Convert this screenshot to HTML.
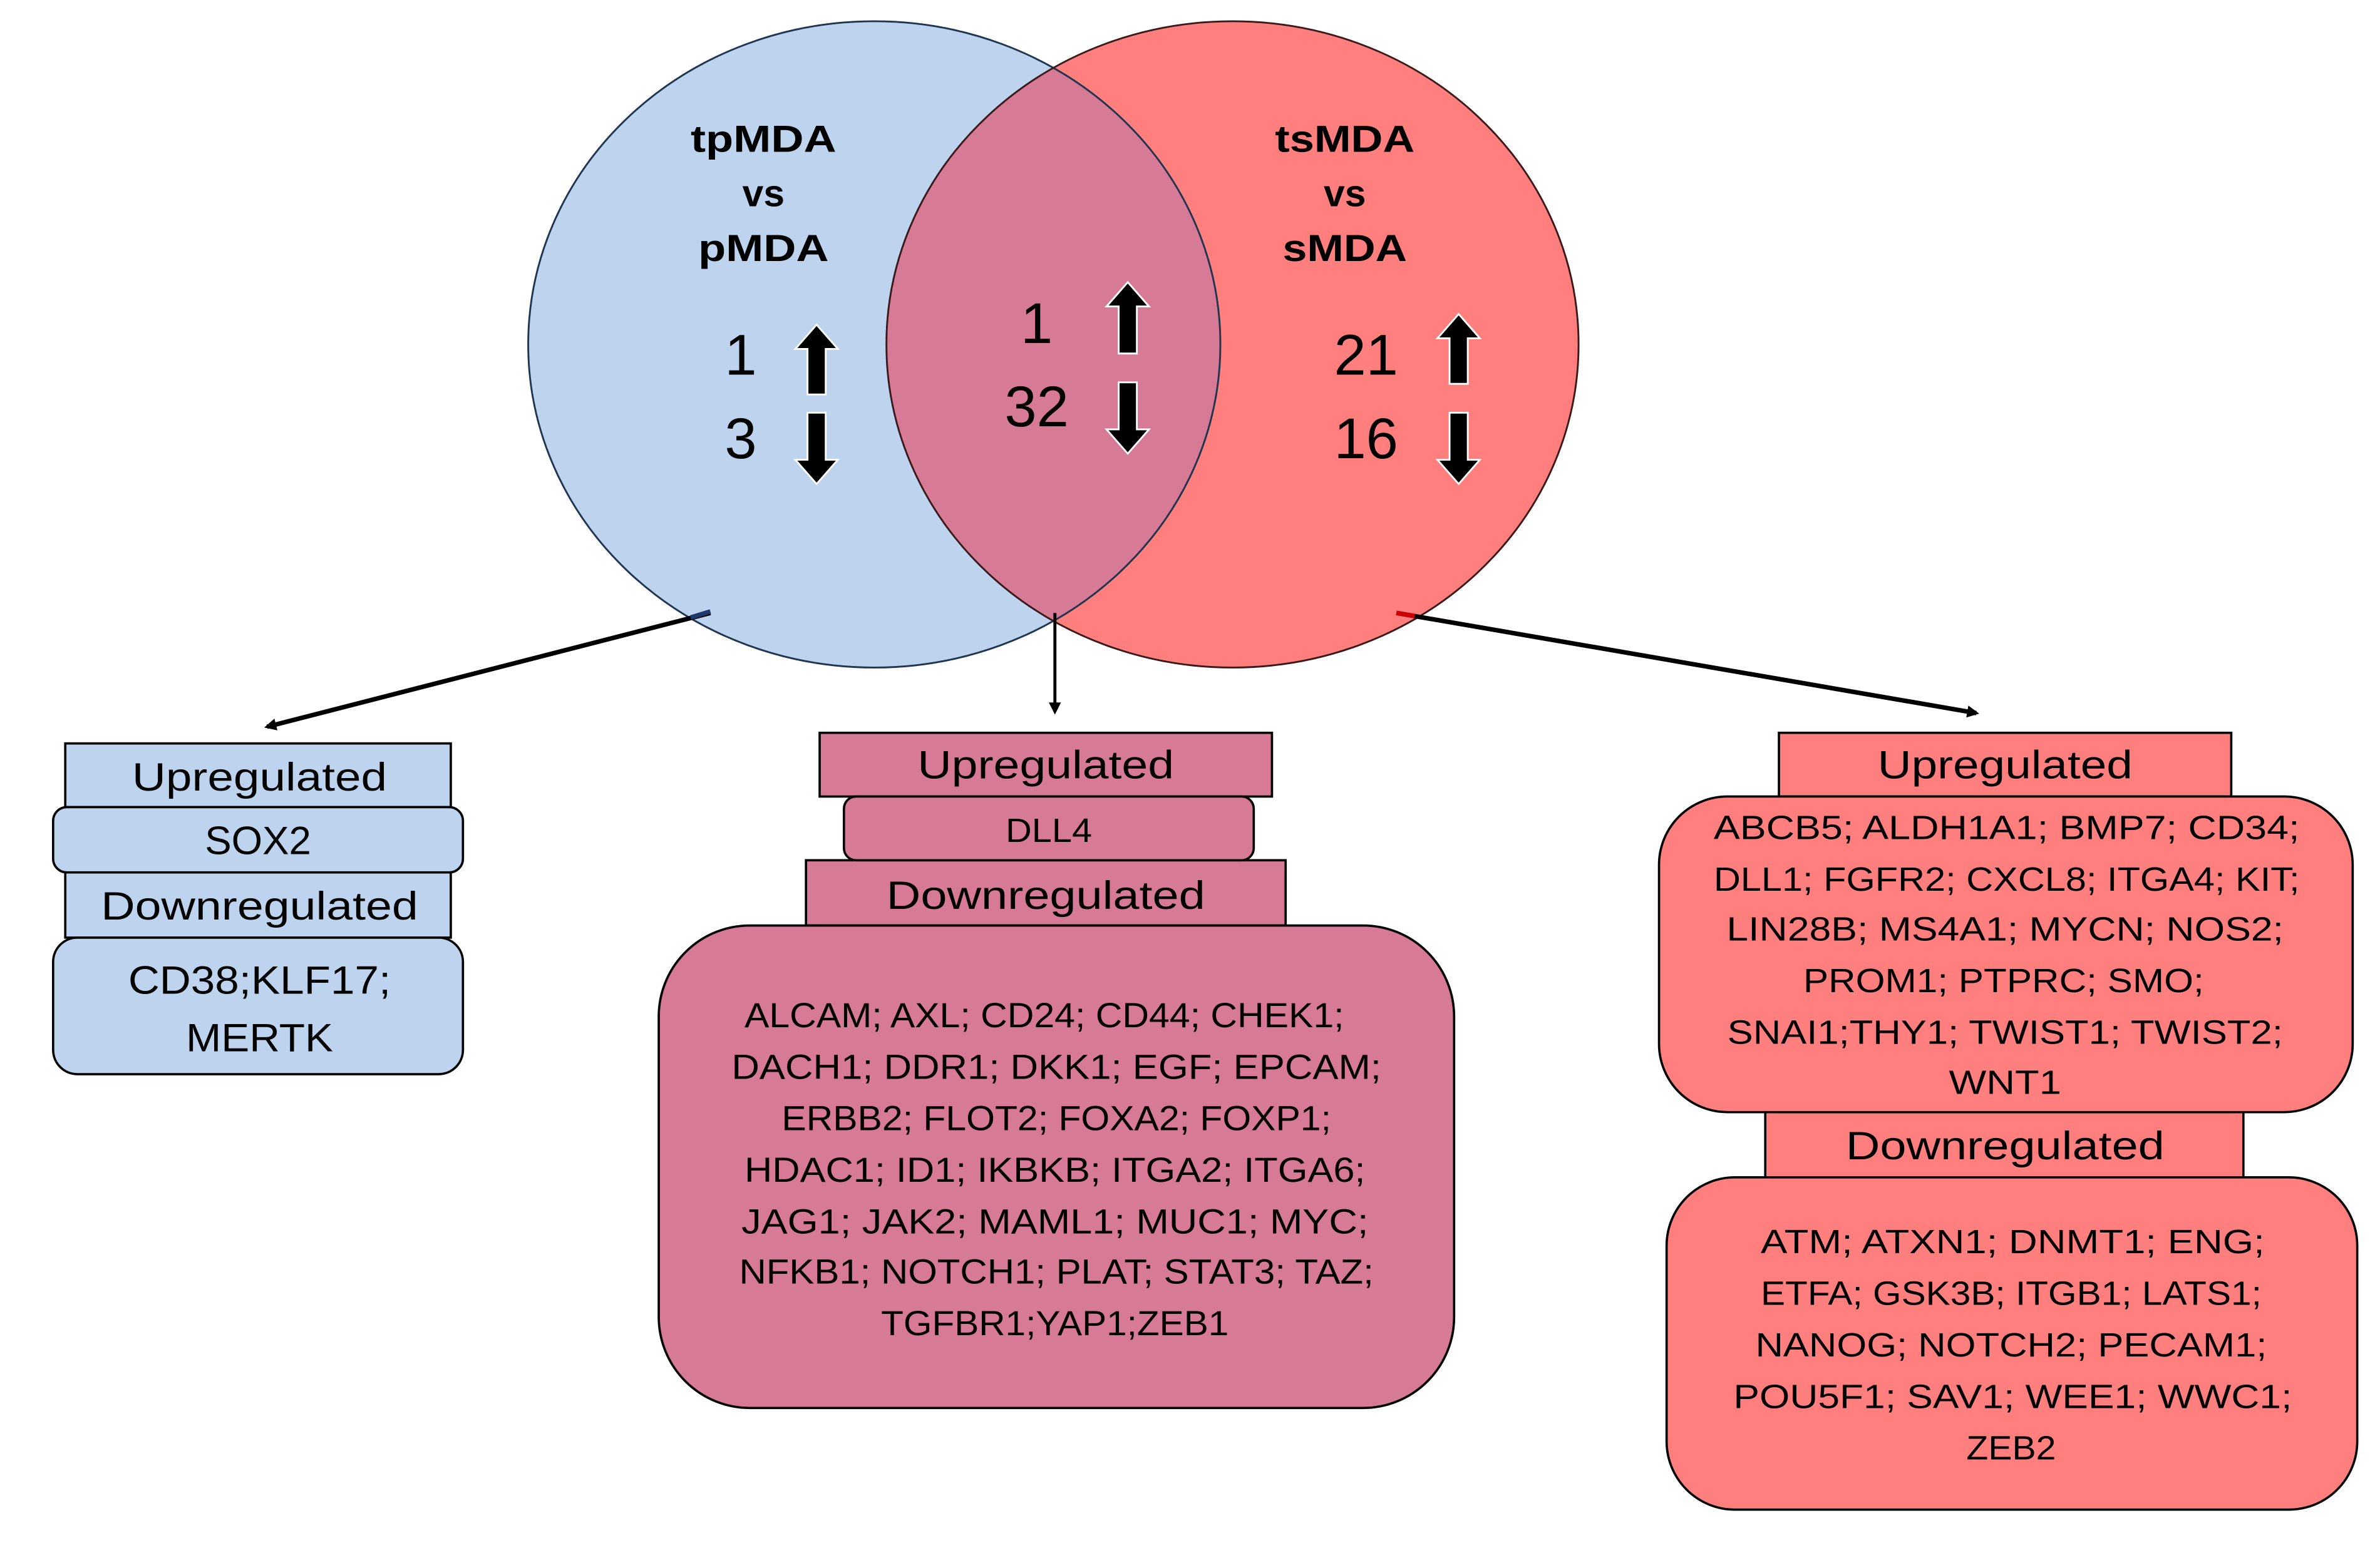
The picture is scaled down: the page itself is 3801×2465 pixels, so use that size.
<!DOCTYPE html>
<html><head><meta charset="utf-8"><style>
html,body{margin:0;padding:0;background:#fff}
svg{display:block}
text{font-family:"Liberation Sans",sans-serif;fill:#000;text-anchor:middle}
</style></head><body>
<svg width="3801" height="2465" viewBox="0 0 1568 1017" preserveAspectRatio="none" xmlns="http://www.w3.org/2000/svg">
<defs>
<clipPath id="cl"><ellipse cx="576" cy="227" rx="228" ry="213"/></clipPath>
<marker id="ah" markerWidth="8" markerHeight="8" refX="6" refY="4" orient="auto" markerUnits="userSpaceOnUse"><path d="M0,0 L8,4 L0,8 Z" fill="#000"/></marker>
</defs>
<ellipse cx="576" cy="227" rx="228" ry="213" fill="#bdd3ee"/>
<ellipse cx="812" cy="227" rx="228" ry="213" fill="#ff7f7f"/>
<ellipse cx="812" cy="227" rx="228" ry="213" fill="#d67a96" clip-path="url(#cl)"/>
<ellipse cx="576" cy="227" rx="228" ry="213" fill="none" stroke="#1f3550" stroke-width="1.2"/>
<ellipse cx="812" cy="227" rx="228" ry="213" fill="none" stroke="#3a1a1a" stroke-width="1.2"/>

<g font-weight="bold" font-size="25">
<text x="503" y="100" textLength="96" lengthAdjust="spacingAndGlyphs">tpMDA</text>
<text x="503" y="136">vs</text>
<text x="503" y="172" textLength="86" lengthAdjust="spacingAndGlyphs">pMDA</text>
<text x="886" y="100" textLength="92" lengthAdjust="spacingAndGlyphs">tsMDA</text>
<text x="886" y="136">vs</text>
<text x="886" y="172" textLength="82" lengthAdjust="spacingAndGlyphs">sMDA</text>
</g>
<g font-size="38">
<text x="488" y="247">1</text><text x="488" y="302">3</text>
<text x="683" y="226">1</text><text x="683" y="281">32</text>
<text x="900" y="247">21</text><text x="900" y="302">16</text>
</g>
<g fill="#000" stroke="#fff" stroke-width="1.2">
<path d="M538,214 L552,230 L544,230 L544,260 L532,260 L532,230 L524,230 Z"/>
<path d="M538,319 L552,303 L544,303 L544,272 L532,272 L532,303 L524,303 Z"/>
<path d="M743,186 L757,202 L749,202 L749,233 L737,233 L737,202 L729,202 Z"/>
<path d="M743,299 L757,283 L749,283 L749,252 L737,252 L737,283 L729,283 Z"/>
<path d="M961,207 L975,223 L967,223 L967,253 L955,253 L955,223 L947,223 Z"/>
<path d="M961,319 L975,303 L967,303 L967,272 L955,272 L955,303 L947,303 Z"/>
</g>
<g stroke="#000" stroke-width="3" fill="none">
<line x1="468" y1="404" x2="176" y2="479" marker-end="url(#ah)"/>
<line x1="695" y1="404" x2="695" y2="469" stroke-width="2" marker-end="url(#ah)"/>
<line x1="920" y1="404" x2="1302" y2="470" marker-end="url(#ah)"/>
</g>
<line x1="455" y1="407" x2="468" y2="403" stroke="#1f3a6a" stroke-width="3"/>
<line x1="920" y1="404" x2="932" y2="406" stroke="#c00" stroke-width="3"/>

<g stroke="#000" stroke-width="1.5" fill="#bdd3ee">
<rect x="43" y="490" width="254" height="42"/>
<rect x="43" y="575" width="254" height="43"/>
<rect x="35" y="532" width="270" height="43" rx="9"/>
<rect x="35" y="618" width="270" height="90" rx="16"/>
</g>
<g font-size="26">
<text x="171" y="521" textLength="168" lengthAdjust="spacingAndGlyphs">Upregulated</text>
<text x="170" y="563" textLength="70" lengthAdjust="spacingAndGlyphs">SOX2</text>
<text x="171" y="606" textLength="209" lengthAdjust="spacingAndGlyphs">Downregulated</text>
<text x="171" y="655" textLength="173" lengthAdjust="spacingAndGlyphs">CD38;KLF17;</text>
<text x="171" y="693" textLength="97" lengthAdjust="spacingAndGlyphs">MERTK</text>
</g>

<g stroke="#000" stroke-width="1.5" fill="#d67a96">
<rect x="540" y="483" width="298" height="42"/>
<rect x="531" y="567" width="316" height="43"/>
<rect x="556" y="525" width="270" height="42" rx="8"/>
<rect x="434" y="610" width="524" height="318" rx="60"/>
</g>
<g font-size="26">
<text x="689" y="513" textLength="169" lengthAdjust="spacingAndGlyphs">Upregulated</text>
<text x="691" y="555" font-size="22" textLength="57" lengthAdjust="spacingAndGlyphs">DLL4</text>
<text x="689" y="599" textLength="210" lengthAdjust="spacingAndGlyphs">Downregulated</text>
</g>
<g font-size="23">
<text x="688" y="677" textLength="395" lengthAdjust="spacingAndGlyphs">ALCAM; AXL; CD24; CD44; CHEK1;</text>
<text x="696" y="711" textLength="428" lengthAdjust="spacingAndGlyphs">DACH1; DDR1; DKK1; EGF;  EPCAM;</text>
<text x="696" y="745" textLength="362" lengthAdjust="spacingAndGlyphs">ERBB2; FLOT2; FOXA2; FOXP1;</text>
<text x="695" y="779" textLength="409" lengthAdjust="spacingAndGlyphs">HDAC1; ID1; IKBKB; ITGA2; ITGA6;</text>
<text x="695" y="813" textLength="413" lengthAdjust="spacingAndGlyphs">JAG1; JAK2; MAML1; MUC1; MYC;</text>
<text x="696" y="846" textLength="418" lengthAdjust="spacingAndGlyphs">NFKB1; NOTCH1; PLAT; STAT3; TAZ;</text>
<text x="695" y="880" textLength="229" lengthAdjust="spacingAndGlyphs">TGFBR1;YAP1;ZEB1</text>
</g>

<g stroke="#000" stroke-width="1.5" fill="#ff7f7f">
<rect x="1172" y="483" width="298" height="42"/>
<rect x="1163" y="733" width="315" height="43"/>
<rect x="1093" y="525" width="457" height="208" rx="45"/>
<rect x="1098" y="776" width="455" height="219" rx="45"/>
</g>
<g font-size="26">
<text x="1321" y="513" textLength="168" lengthAdjust="spacingAndGlyphs">Upregulated</text>
<text x="1321" y="764" textLength="210" lengthAdjust="spacingAndGlyphs">Downregulated</text>
</g>
<g font-size="22">
<text x="1322" y="553" textLength="386" lengthAdjust="spacingAndGlyphs">ABCB5; ALDH1A1; BMP7; CD34;</text>
<text x="1322" y="587" textLength="386" lengthAdjust="spacingAndGlyphs">DLL1; FGFR2; CXCL8; ITGA4; KIT;</text>
<text x="1321" y="620" textLength="367" lengthAdjust="spacingAndGlyphs">LIN28B; MS4A1; MYCN; NOS2;</text>
<text x="1320" y="654" textLength="264" lengthAdjust="spacingAndGlyphs">PROM1; PTPRC; SMO;</text>
<text x="1321" y="688" textLength="366" lengthAdjust="spacingAndGlyphs">SNAI1;THY1; TWIST1; TWIST2;</text>
<text x="1321" y="721" textLength="74" lengthAdjust="spacingAndGlyphs">WNT1</text>
<text x="1326" y="826" textLength="332" lengthAdjust="spacingAndGlyphs">ATM; ATXN1; DNMT1; ENG;</text>
<text x="1325" y="860" textLength="330" lengthAdjust="spacingAndGlyphs">ETFA; GSK3B; ITGB1; LATS1;</text>
<text x="1325" y="894" textLength="337" lengthAdjust="spacingAndGlyphs">NANOG; NOTCH2; PECAM1;</text>
<text x="1326" y="928" textLength="368" lengthAdjust="spacingAndGlyphs">POU5F1; SAV1; WEE1; WWC1;</text>
<text x="1325" y="962" textLength="59" lengthAdjust="spacingAndGlyphs">ZEB2</text>
</g>
</svg>
</body></html>
